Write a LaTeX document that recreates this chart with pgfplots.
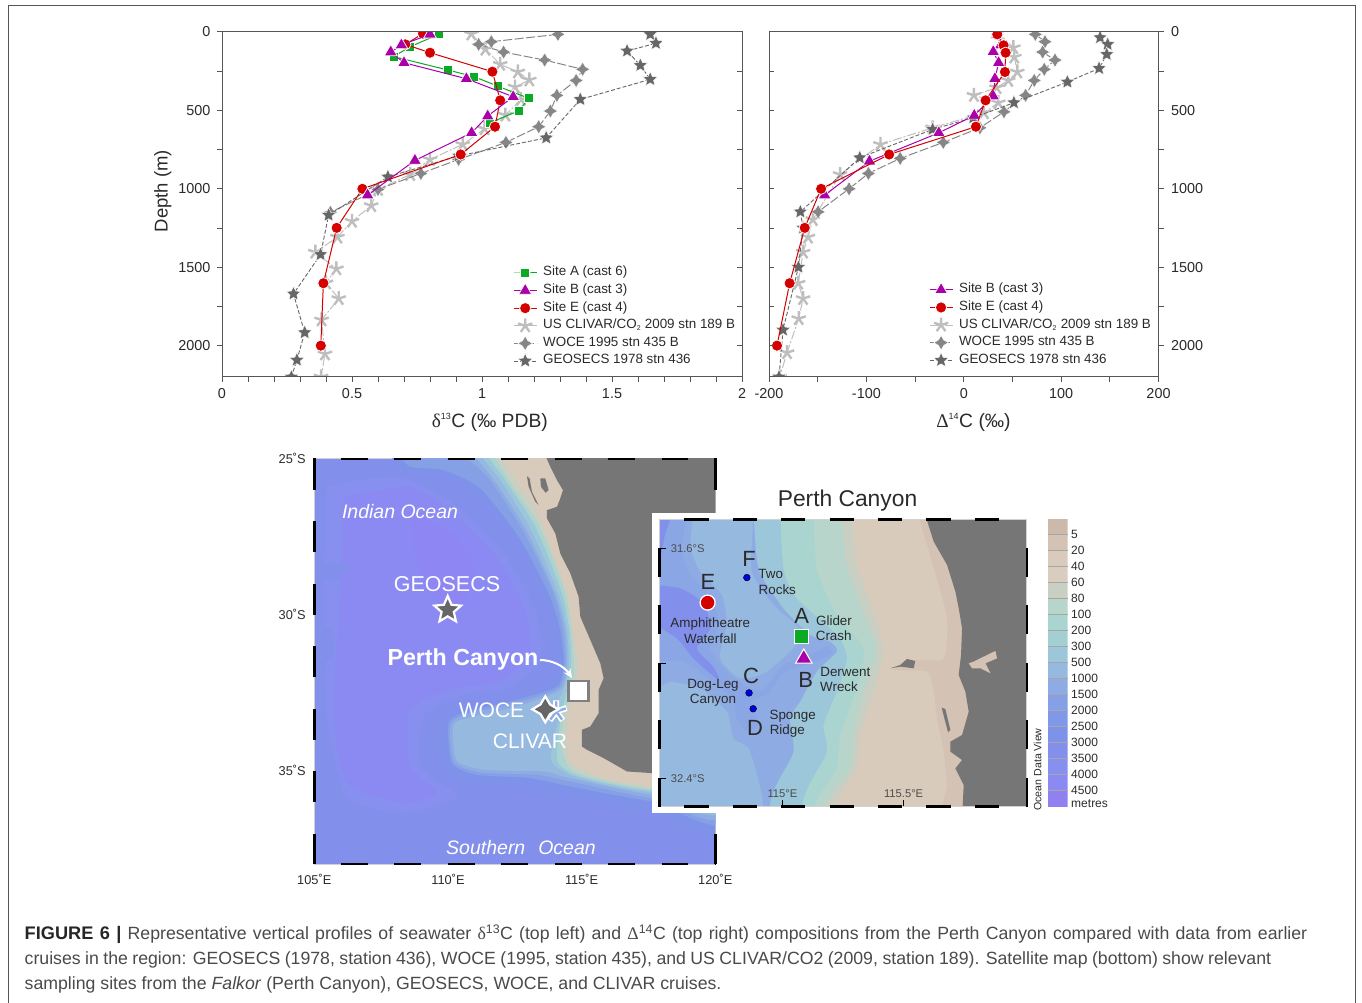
\documentclass[border=0pt]{standalone}
\usepackage{fontspec}
\setmainfont{Liberation Sans}
\newfontfamily\serifgr{Liberation Serif}
\usepackage{pgfplots}
\pgfplotsset{compat=1.18}
\usetikzlibrary{arrows.meta,plotmarks}

\definecolor{axisgray}{HTML}{555555}
\definecolor{txt}{HTML}{2A2A2A}
\definecolor{capt}{HTML}{4A4A4A}
\definecolor{sitea}{HTML}{0BAA24}
\definecolor{siteb}{HTML}{AA00AA}
\definecolor{sitee}{HTML}{D40000}
\definecolor{clivar}{HTML}{BEBEBE}
\definecolor{woce}{HTML}{868686}
\definecolor{geo}{HTML}{666666}
\definecolor{land}{HTML}{767676}

% depth colour ramp, shallow to deep, as on the colour bar
\definecolor{d0}{HTML}{CDB9A9}
\definecolor{d1}{HTML}{D4C3B4}
\definecolor{d2}{HTML}{D9CBBB}
\definecolor{d3}{HTML}{D8CDBE}
\definecolor{d4}{HTML}{C9CFC3}
\definecolor{d5}{HTML}{B8D5CC}
\definecolor{d6}{HTML}{AAD4CF}
\definecolor{d7}{HTML}{A3CFD3}
\definecolor{d8}{HTML}{9CC6DA}
\definecolor{d9}{HTML}{96B9E0}
\definecolor{d10}{HTML}{8EACE3}
\definecolor{d11}{HTML}{86A0E6}
\definecolor{d12}{HTML}{7F98E8}
\definecolor{d13}{HTML}{7F92EA}
\definecolor{d14}{HTML}{8290EC}
\definecolor{d15}{HTML}{8790EF}
\definecolor{d16}{HTML}{8B8AF3}
\definecolor{d17}{HTML}{9080F0}
\definecolor{basin}{HTML}{8D86F3}

% filled five-point star, with a set inner radius
\pgfdeclareplotmark{fstar}{%
  \pgfpathmoveto{\pgfpointpolar{90}{1\pgfplotmarksize}}%
  \pgfpathlineto{\pgfpointpolar{126}{0.46\pgfplotmarksize}}%
  \pgfpathlineto{\pgfpointpolar{162}{1\pgfplotmarksize}}%
  \pgfpathlineto{\pgfpointpolar{198}{0.46\pgfplotmarksize}}%
  \pgfpathlineto{\pgfpointpolar{234}{1\pgfplotmarksize}}%
  \pgfpathlineto{\pgfpointpolar{270}{0.46\pgfplotmarksize}}%
  \pgfpathlineto{\pgfpointpolar{306}{1\pgfplotmarksize}}%
  \pgfpathlineto{\pgfpointpolar{342}{0.46\pgfplotmarksize}}%
  \pgfpathlineto{\pgfpointpolar{18}{1\pgfplotmarksize}}%
  \pgfpathlineto{\pgfpointpolar{54}{0.46\pgfplotmarksize}}%
  \pgfpathclose\pgfusepathqfillstroke}
% four-point star for WOCE
\pgfdeclareplotmark{fourstar}{%
  \pgfpathmoveto{\pgfpointpolar{90}{1\pgfplotmarksize}}%
  \pgfpathlineto{\pgfpointpolar{135}{0.52\pgfplotmarksize}}%
  \pgfpathlineto{\pgfpointpolar{180}{1\pgfplotmarksize}}%
  \pgfpathlineto{\pgfpointpolar{225}{0.52\pgfplotmarksize}}%
  \pgfpathlineto{\pgfpointpolar{270}{1\pgfplotmarksize}}%
  \pgfpathlineto{\pgfpointpolar{315}{0.52\pgfplotmarksize}}%
  \pgfpathlineto{\pgfpointpolar{0}{1\pgfplotmarksize}}%
  \pgfpathlineto{\pgfpointpolar{45}{0.52\pgfplotmarksize}}%
  \pgfpathclose\pgfusepathqfillstroke}

\pgfplotsset{
  sA/.style={color=sitea,line width=1pt,mark=square*,mark size=4.5pt,
    mark options={solid,fill=sitea,draw=white,line width=.7pt}},
  sB/.style={color=siteb,line width=1pt,mark=triangle*,mark size=7.4pt,
    mark options={solid,fill=siteb,draw=white,line width=.7pt}},
  sE/.style={color=sitee,line width=1pt,mark=*,mark size=5.6pt,
    mark options={solid,fill=sitee,draw=white,line width=.7pt}},
  sC/.style={color=clivar,line width=1pt,dash pattern=on 9pt off 2pt on 2pt off 2pt,mark=star,mark size=7.5pt,
    mark options={solid,draw=clivar,line width=2.4pt}},
  sW/.style={color=woce,line width=1pt,dash pattern=on 9pt off 2.5pt,mark=fourstar,mark size=7.2pt,
    mark options={solid,fill=woce,draw=white,line width=.4pt}},
  sG/.style={color=geo,line width=.9pt,dash pattern=on 4pt off 2pt,mark=fstar,mark size=7.6pt,
    mark options={solid,fill=geo,draw=white,line width=.4pt}},
  profile/.style={
    scale only axis,width=#1,height=345pt,
    y dir=reverse,ymin=0,ymax=2200,
    ytick={0,500,1000,1500,2000},minor y tick num=1,
    axis line style={axisgray,line width=1pt},
    every tick/.style={axisgray,line width=1pt},
    major tick length=5pt,minor tick length=5pt,
    tick align=outside,
    xtick pos=lower,xticklabel pos=lower,
    clip marker paths=true,
    axis on top,
    tick label style={font=\fontsize{14.4}{16}\selectfont,text=txt},
    xticklabel style={yshift=-3pt},
    /pgf/number format/assume math mode=true,
    /pgf/number format/1000 sep={},
    label style={font=\fontsize{18.5}{21}\selectfont,text=txt},
    legend cell align=left,
    legend image code/.code={\draw[mark repeat=2,mark phase=2,##1] plot coordinates {(0pt,0pt)(11.5pt,0pt)(23pt,0pt)};},
    % tall text boxes give every row the same height, whatever its mark
    legend style={draw=none,fill=none,inner sep=0pt,outer sep=0pt,
      font=\fontsize{13.4}{15}\selectfont,text=txt,row sep=0pt,
      nodes={inner sep=0pt,text height=11.8pt,text depth=5.8pt},
      /tikz/every odd column/.append style={column sep=6pt}},
  },
  bigmap/.style={x filter/.expression={105+(x-132)/80.2},y filter/.expression={-25-(y-25)/93.8}},
  insetmap/.style={x filter/.expression={115+(x-397)/726},y filter/.expression={-31.6-(y-190)/862.5}},
  poly/.style={fill=#1,draw=none,smooth,tension=.4,forget plot},
}

\begin{document}
\begin{tikzpicture}[x=1pt,y=1pt]
\useasboundingbox (0,0) rectangle (1362,1003);
\draw[axisgray,line width=1pt] (8,0) -- (8,997) -- (1355,997) -- (1355,0);

% ---- left profile panel
\begin{axis}[profile=520pt,at={(222pt,626pt)},anchor=south west,
  xmin=0,xmax=2,xtick={0,0.5,1,1.5,2},xticklabels={0,0.5,1,1.5,2},minor x tick num=4,
  ytick pos=left,yticklabel style={xshift=-3pt},
  xlabel={{\serifgr δ}\textsuperscript{\fontsize{9}{10}\selectfont13}C (‰ PDB)},
  ylabel={Depth (m)},
  xlabel style={font=\fontsize{19.3}{21}\selectfont,at={(axis description cs:0.515,-0.131)},anchor=center},
  ylabel style={at={(axis description cs:-0.114,0.539)},anchor=center},
  legend style={at={(axis description cs:0.56,0.327)},anchor=north west}]
\addlegendimage{sA}\addlegendentry{Site A (cast 6)}
\addlegendimage{sB}\addlegendentry{Site B (cast 3)}
\addlegendimage{sE}\addlegendentry{Site E (cast 4)}
\addlegendimage{sC}\addlegendentry{US CLIVAR/CO\textsubscript{\fontsize{7}{8}\selectfont2} 2009 stn 189 B}
\addlegendimage{sW}\addlegendentry{WOCE 1995 stn 435 B}
\addlegendimage{sG}\addlegendentry{GEOSECS 1978 stn 436}
\addplot[sC,forget plot] coordinates {
 (0.959,13) (1.013,110) (1.07,206) (1.138,255) (1.182,306) (1.127,351) (1.15,430)
 (1.09,530) (1.01,617) (0.926,717) (0.80,813) (0.724,909) (0.60,1004) (0.574,1107)
 (0.50,1207) (0.444,1308) (0.359,1404) (0.44,1510) (0.40,1600) (0.449,1700) (0.383,1836)
 (0.396,2053) (0.381,2200)};
\addplot[sW,forget plot] coordinates {
 (1.292,15) (1.036,62) (0.987,79) (1.083,128) (1.241,179) (1.387,238) (1.362,309)
 (1.288,404) (1.263,504) (1.218,604) (1.092,704) (0.91,813) (0.765,902) (0.60,1004) (0.417,1150)};
\addplot[sG,forget plot] coordinates {
 (1.647,15) (1.669,72) (1.558,121) (1.609,213) (1.647,302) (1.378,430) (1.247,675)
 (0.91,790) (0.638,924) (0.41,1168) (0.379,1419) (0.275,1670) (0.318,1917) (0.288,2092) (0.267,2200)};
\addplot[sA,forget plot] coordinates {
 (0.833,15) (0.724,94) (0.66,157) (0.87,243) (0.97,285) (1.06,345) (1.18,423) (1.14,504) (1.03,579)};
\addplot[sE,forget plot] coordinates {
 (0.773,10) (0.705,79) (0.80,132) (1.04,253) (1.07,436) (1.05,604) (0.918,781)
 (0.54,1000) (0.441,1249) (0.39,1602) (0.38,2000)};
\addplot[sB,forget plot] coordinates {
 (0.80,15) (0.69,83) (0.649,128) (0.70,196) (0.94,298) (1.12,413) (1.022,536)
 (0.96,643) (0.742,819) (0.56,1040)};
\end{axis}
% its right-hand ticks point into the panel
\begin{axis}[profile=520pt,at={(222pt,626pt)},anchor=south west,
  xmin=0,xmax=2,xtick=\empty,ytick pos=right,yticklabels={},tick align=inside]
\end{axis}

% ---- right profile panel
\begin{axis}[profile=389.5pt,at={(769pt,626pt)},anchor=south west,
  xmin=-200,xmax=200,xtick={-200,-100,0,100,200},xticklabels={-200,-100,0,100,200},minor x tick num=1,
  ytick pos=right,yticklabel pos=right,yticklabel style={xshift=4pt},
  xlabel={{\serifgr Δ}\textsuperscript{\fontsize{9}{10}\selectfont14}C (‰)},
  xlabel style={font=\fontsize{19.3}{21}\selectfont,at={(axis description cs:0.525,-0.131)},anchor=center},
  legend style={at={(axis description cs:0.411,0.278)},anchor=north west}]
\addlegendimage{sB}\addlegendentry{Site B (cast 3)}
\addlegendimage{sE}\addlegendentry{Site E (cast 4)}
\addlegendimage{sC}\addlegendentry{US CLIVAR/CO\textsubscript{\fontsize{7}{8}\selectfont2} 2009 stn 189 B}
\addlegendimage{sW}\addlegendentry{WOCE 1995 stn 435 B}
\addlegendimage{sG}\addlegendentry{GEOSECS 1978 stn 436}
\addplot[sC,forget plot] coordinates {
 (35.5,5) (50.9,100) (51.9,160) (55,255) (45.7,309) (33.7,355) (10.4,404) (35.5,451)
 (20.7,515) (-32,611) (-85.5,717) (-127,909) (-155,1196) (-160,1308) (-165,1404)
 (-170,1602) (-165,1700) (-169.5,1828) (-181.5,2045) (-189,2200)};
\addplot[sW,forget plot] coordinates {
 (73.5,15) (83.4,62) (81,128) (93.7,179) (82.7,238) (72.4,309) (63.5,404) (41.3,509)
 (16.6,611) (-21,704) (-65.3,806) (-97.9,902) (-117.8,1000) (-149.6,1147)};
\addplot[sG,forget plot] coordinates {
 (140,36) (147.8,79) (146.8,143) (139,232) (106.4,319) (51.5,451) (9.7,547) (-32,621)
 (-106.8,802) (-167.8,1147) (-165,1250) (-169.8,1500) (-185.6,1900) (-189.7,2200)};
\addplot[sB,forget plot] coordinates {
 (34,15) (38,83) (30.3,126) (35.8,196) (32,298) (30.3,409) (10.8,532) (-25.6,643) (-96.8,824) (-142.8,1040)};
\addplot[sE,forget plot] coordinates {
 (34.4,15) (40.9,85) (43,132) (42.3,255) (22.4,436) (12.5,604) (-76.6,781) (-146.5,1000)
 (-163.3,1249) (-178.8,1602) (-191.8,2000)};
\end{axis}
\begin{axis}[profile=389.5pt,at={(769pt,626pt)},anchor=south west,
  xmin=-200,xmax=200,xtick=\empty,ytick pos=left,yticklabels={},tick align=inside]
\end{axis}

% ---- regional map, polygons typed in picture units and mapped to lon/lat
\begin{axis}[scale only axis,width=401pt,height=406pt,at={(314.3pt,138.5pt)},anchor=south west,
  xmin=105,xmax=120,ymin=-38,ymax=-25,
  xtick={105,110,115,120},xticklabels={105˚E,110˚E,115˚E,120˚E},
  ytick={-25,-30,-35},yticklabels={25˚S,30˚S,35˚S},
  xtick pos=lower,ytick pos=left,
  major tick length=0pt,
  tick label style={font=\fontsize{12.8}{14}\selectfont,text=txt},
  xticklabel style={yshift=-6pt},yticklabel style={xshift=-5pt},
  axis line style={draw=black!18,line width=1.2pt},
  axis background/.style={fill=d14}]
% deep basin
\addplot[bigmap,poly=d15] coordinates {(170,110)(300,85)(420,90)(560,170)(700,310)(790,470)(810,620)(720,710)(560,740)(460,800)(450,950)(560,1040)(400,1090)(230,1040)(170,800)(160,400)};
\addplot[bigmap,poly=d16] coordinates {(220,140)(420,110)(550,190)(680,320)(760,470)(780,600)(700,690)(540,720)(420,780)(420,950)(500,1030)(400,1060)(230,1000)(190,800)(210,400)};
\addplot[bigmap,poly=basin] coordinates {(420,190)(560,260)(620,380)(560,470)(470,420)(430,300)};
\addplot[bigmap,poly=d14] coordinates {(150,350)(190,340)(240,345)(200,390)(150,385)};
\addplot[bigmap,poly=d14] coordinates {(150,540)(180,530)(190,620)(150,640)};
% top patch, shelf slope and plateau, deepest first
\addplot[bigmap,poly=d13] coordinates {(360,15)(400,65)(520,75)(640,150)(760,300)(830,450)(860,580)(860,680)(770,730)(650,755)(540,790)(510,840)(525,960)(600,995)(760,1010)(900,1040)(1145,1085)(1400,1120)(1400,15)};
\addplot[bigmap,poly=d11] coordinates {(390,15)(420,50)(520,60)(630,115)(745,260)(835,430)(870,540)(880,640)(860,710)(720,755)(590,785)(535,820)(545,940)(620,975)(780,985)(900,1010)(1145,1055)(1400,1080)(1400,15)};
\addplot[bigmap,poly=d10] coordinates {(580,15)(660,90)(760,245)(848,425)(878,540)(885,640)(865,715)(730,762)(600,790)(542,822)(550,935)(630,968)(800,975)(900,995)(1145,1045)(1400,1065)(1400,15)};
\addplot[bigmap,poly=d9] coordinates {(610,15)(672,90)(768,240)(855,430)(885,540)(890,650)(870,720)(740,770)(610,800)(550,825)(558,930)(640,960)(820,965)(900,985)(1145,1035)(1400,1050)(1400,15)};
\addplot[bigmap,poly=d8] coordinates {(630,15)(690,90)(780,235)(862,425)(890,540)(895,650)(878,725)(862,760)(865,800)(842,930)(900,975)(1000,1003)(1145,1028)(1400,1045)(1400,15)};
\addplot[bigmap,poly=d6] coordinates {(650,15)(705,90)(795,230)(872,420)(897,540)(902,650)(888,730)(872,800)(860,930)(905,970)(1000,998)(1145,1022)(1400,1040)(1400,15)};
\addplot[bigmap,poly=d4] coordinates {(670,15)(722,100)(808,230)(882,420)(903,540)(912,660)(898,730)(880,800)(875,900)(905,960)(1000,992)(1145,1018)(1400,1035)(1400,15)};
\addplot[bigmap,poly=d2] coordinates {(690,15)(745,100)(805,190)(855,330)(892,430)(908,540)(925,650)(910,720)(895,800)(890,880)(905,940)(1000,985)(1145,1010)(1400,1028)(1400,15)};
\addplot[bigmap,fill=land,draw=none,forget plot] coordinates {
 (825,15)(840,50)(860,90)(878,120)(868,150)(860,170)(830,180)(830,205)(855,250)(870,310)(900,370)(925,440)(930,500)(960,570)(990,640)(1000,685)(985,720)(985,790)(960,830)(935,840)(935,890)(950,900)(1000,925)(1070,965)(1145,970)(1400,1000)(1400,15)};
\addplot[bigmap,fill=land,draw=none,forget plot] coordinates {(810,85)(825,85)(835,120)(826,128)(812,110)};
\addplot[bigmap,fill=land,draw=none,forget plot] coordinates {(770,78)(778,85)(785,125)(805,165)(795,155)(775,110)};
% stations
\addplot[only marks,mark=fstar,mark size=14pt,mark options={fill=geo,draw=white,line width=2.2pt},forget plot] coordinates {(109.99,-29.85)};
\addplot[only marks,mark=square*,mark size=10pt,mark options={fill=white,draw=black!50,line width=2.6pt},forget plot] coordinates {(114.89,-32.44)};
\addplot[only marks,mark=star,mark size=11pt,mark options={draw=white,line width=6pt},forget plot] coordinates {(114.05,-33.1)};
\addplot[only marks,mark=star,mark size=10pt,mark options={draw=d10,line width=2.4pt},forget plot] coordinates {(114.05,-33.1)};
\addplot[only marks,mark=fourstar,mark size=13pt,mark options={fill=geo,draw=white,line width=2.2pt},forget plot] coordinates {(113.64,-33.03)};
\end{axis}

% ---- everything in page pixels from here on, y downwards
\begin{scope}[x=1pt,y=-1pt,shift={(0pt,1003pt)}]
\draw[black,line width=2.6pt,dash pattern=on 26.73pt off 26.73pt] (341,459) -- (716,459) (341,864) -- (716,864);
\draw[black,line width=2.6pt,dash pattern=on 31.26pt off 31.26pt] (314.3,458.5) -- (314.3,864.5) (715.3,458.5) -- (715.3,864.5);
\fill[white] (652,513) rectangle (1031,813);
\node[white,font=\itshape\fontsize{19.5}{22}\selectfont] at (400,511.5) {Indian Ocean};
\node[white,font=\fontsize{21.5}{24}\selectfont] at (447,584) {GEOSECS};
\node[white,font=\bfseries\fontsize{23.2}{25}\selectfont] at (463,659.5) {Perth Canyon};
\node[white,font=\fontsize{21}{24}\selectfont] at (491.5,710.5) {WOCE};
\node[white,font=\fontsize{21}{24}\selectfont] at (530,741.5) {CLIVAR};
\node[white,font=\itshape\fontsize{19.5}{22}\selectfont] at (521,848) {Southern\hspace{13pt}Ocean};
\draw[white,line width=2pt,-{Stealth[length=9pt,width=8pt]}] (540,660) .. controls (552,660) and (564,666) .. (572,678);
\node[text=txt,font=\fontsize{22.8}{24}\selectfont] at (847.5,500.5) {Perth Canyon};
\node[text=txt,rotate=90,font=\fontsize{10.6}{12}\selectfont] at (1037.5,769.5) {Ocean Data View};
\end{scope}

% ---- Perth Canyon inset
\begin{axis}[scale only axis,width=367.5pt,height=287.5pt,at={(659.3pt,196.3pt)},anchor=south west,
  xmin=114.4917,xmax=116.0083,ymin=-32.4985,ymax=-31.4991,
  xtick={115,115.5},xticklabels={115°E,115.5°E},
  ytick={-32.4,-32,-31.6},yticklabels={32.4°S,,31.6°S},
  xtick pos=lower,ytick pos=left,
  axis on top,
  tick align=inside,major tick length=7pt,
  every tick/.style={black,line width=1.2pt},
  tick label style={font=\fontsize{11.2}{13}\selectfont,text=black!70},
  xticklabel style={anchor=south,yshift=6pt},
  yticklabel style={anchor=west,xshift=8pt},
  axis line style={draw=black!18,line width=1.2pt},
  axis background/.style={fill=d10}]
\addplot[insetmap,poly=d10!50!d11] coordinates {(0,60)(110,60)(95,190)(120,270)(185,340)(205,420)(180,490)(230,560)(290,605)(340,615)(400,540)(470,515)(530,485)(545,505)(480,535)(400,565)(355,625)(305,650)(325,715)(290,740)(260,700)(245,640)(160,570)(100,530)(0,530)};
\addplot[insetmap,poly=d14] coordinates {(0,60)(70,60)(45,150)(30,220)(0,260)};
\addplot[insetmap,poly=d14] coordinates {(0,300)(90,310)(160,355)(180,430)(140,490)(190,545)(205,585)(130,520)(80,460)(0,410)};
\addplot[insetmap,poly=d9] coordinates {(0,620)(40,1000)(330,1000)(300,800)(250,760)(230,680)(150,610)(60,590)};
\addplot[insetmap,poly=d9] coordinates {(130,60)(300,60)(305,260)(380,370)(460,450)(350,560)(270,580)(210,520)(230,420)(215,330)(150,260)(120,190)};
\addplot[insetmap,poly=d8] coordinates {(310,60)(325,250)(400,370)(480,450)(540,470)(560,500)(500,560)(450,650)(420,700)(430,800)(390,1000)(1200,1000)(1200,60)};
\addplot[insetmap,poly=d6] coordinates {(390,60)(400,250)(440,340)(560,450)(590,520)(560,620)(520,720)(530,800)(480,1000)(1200,1000)(1200,60)};
\addplot[insetmap,poly=d5] coordinates {(490,60)(500,250)(560,390)(640,490)(620,610)(570,750)(560,850)(515,1000)(1200,1000)(1200,60)};
\addplot[insetmap,poly=d4] coordinates {(570,60)(590,240)(640,380)(680,500)(640,620)(610,750)(600,850)(540,1000)(1200,1000)(1200,60)};
\addplot[insetmap,poly=d2] coordinates {(600,60)(620,240)(670,380)(700,500)(670,620)(630,750)(620,850)(570,1000)(1200,1000)(1200,60)};
\addplot[insetmap,poly=d1] coordinates {(795,60)(850,250)(890,400)(880,520)(800,525)(730,555)(830,560)(850,620)(860,700)(880,800)(890,900)(890,1000)(1200,1000)(1200,60)};
\addplot[insetmap,fill=land,draw=none,forget plot] coordinates {(815,60)(850,170)(890,240)(915,320)(925,370)(935,430)(932,510)(925,570)(945,620)(955,680)(935,750)(900,770)(900,800)(935,825)(915,850)(940,900)(935,1000)(1200,1000)(1200,60)};
\addplot[insetmap,fill=d1,draw=none,forget plot] coordinates {(955,535)(970,530)(1000,515)(1035,498)(1040,520)(1005,535)(1020,565)(990,550)(965,550)};
\addplot[insetmap,fill=land,draw=none,forget plot] coordinates {(720,550)(750,540)(770,522)(795,528)(790,550)(750,545)};
\addplot[insetmap,fill=land,draw=none,forget plot] coordinates {(874,668)(885,672)(900,735)(893,742)(882,700)};
\addplot[only marks,mark=*,mark size=3.4pt,mark options={fill=blue!90!black,draw=none},forget plot] coordinates {(114.853,-31.702) (114.862,-32.103) (114.879,-32.158)};
\addplot[sE,only marks,mark size=7.5pt,mark options={draw=white,fill=sitee,line width=1.3pt},forget plot] coordinates {(114.691,-31.789)};
\addplot[sA,only marks,mark size=7pt,mark options={draw=white,fill=sitea,line width=1.1pt},forget plot] coordinates {(115.08,-31.908)};
\addplot[sB,only marks,mark size=9.5pt,mark options={draw=white,fill=siteb,line width=1.1pt},forget plot] coordinates {(115.088,-31.983)};
\end{axis}

% ---- colour bar, one band per depth step
\begin{axis}[scale only axis,width=20pt,height=288pt,at={(1047.7pt,196.3pt)},anchor=south west,
  xmin=0,xmax=1,ymin=0,ymax=18,y dir=reverse,
  xtick=\empty,ytick={1,2,...,17},
  yticklabels={5,20,40,60,80,100,200,300,500,1000,1500,2000,2500,3000,3500,4000,4500},
  extra y ticks={17.8},extra y tick labels={metres},extra y tick style={grid=none},
  ymajorgrids,grid style={black!35,line width=.5pt},
  major tick length=0pt,ytick pos=right,yticklabel pos=right,
  tick label style={font=\fontsize{12}{13}\selectfont,text=txt},
  /pgf/number format/1000 sep={},
  axis line style={draw=none},axis on top]
\pgfplotsinvokeforeach{0,...,17}{
  \addplot[fill=d#1,draw=none,forget plot] coordinates {(0,#1)(1,#1)(1,#1+1)(0,#1+1)};
}
\end{axis}

\begin{scope}[x=1pt,y=-1pt,shift={(0pt,1003pt)}]
\draw[black,line width=2.6pt,dash pattern=on 24.2pt off 24.2pt] (684.3,519.5) -- (1003,519.5) (684.3,806.5) -- (1003,806.5);
\draw[black,line width=2.6pt,dash pattern=on 28.75pt off 28.75pt] (659.3,548) -- (659.3,807) (1026.8,548) -- (1026.8,807);
% site letters
\foreach \t/\x/\y in {F/749/558.5,E/708/581.7,A/801.7/616,C/751/676,B/805.7/679.7,D/755/727.7}
  \node[text=txt,font=\fontsize{22}{24}\selectfont] at (\x,\y) {\t};
\foreach \t/\x/\y in {Two/770.7/574,Rocks/777.3/589.3,Amphitheatre/710.3/624.3,Waterfall/710.3/639,
    Glider/834/620.3,Crash/833.7/635.3,Dog-Leg/713/685.7,Canyon/713/700.7,Derwent/845.3/671.7,
    Wreck/839/686.3,Sponge/792.7/716.3,Ridge/787.3/731.3}
  \node[text=txt,font=\fontsize{13.4}{15}\selectfont] at (\x,\y) {\t};
% caption, each line set to the measure it has in the reference
\node[anchor=base west,inner sep=0pt,text=capt,font=\fontsize{17.7}{20}\selectfont] at (24.5,940)
  {\makebox[1282.5pt][s]{{\bfseries\fontsize{18.2}{20}\selectfont\color{black!85}FIGURE 6 |} Representative vertical profiles of seawater {\serifgr δ}\textsuperscript{13}C (top left) and {\serifgr Δ}\textsuperscript{14}C (top right) compositions from the Perth Canyon compared with data from earlier}};
\node[anchor=base west,inner sep=0pt,text=capt,font=\fontsize{17.7}{20}\selectfont] at (24.5,965)
  {\makebox[1246.5pt][s]{cruises in the region: GEOSECS (1978, station 436), WOCE (1995, station 435), and US CLIVAR/CO2 (2009, station 189). Satellite map (bottom) show relevant}};
\node[anchor=base west,inner sep=0pt,text=capt,font=\fontsize{17.7}{20}\selectfont] at (24.5,990)
  {sampling sites from the \textit{Falkor} (Perth Canyon), GEOSECS, WOCE, and CLIVAR cruises.};
\end{scope}
\end{tikzpicture}
\end{document}
